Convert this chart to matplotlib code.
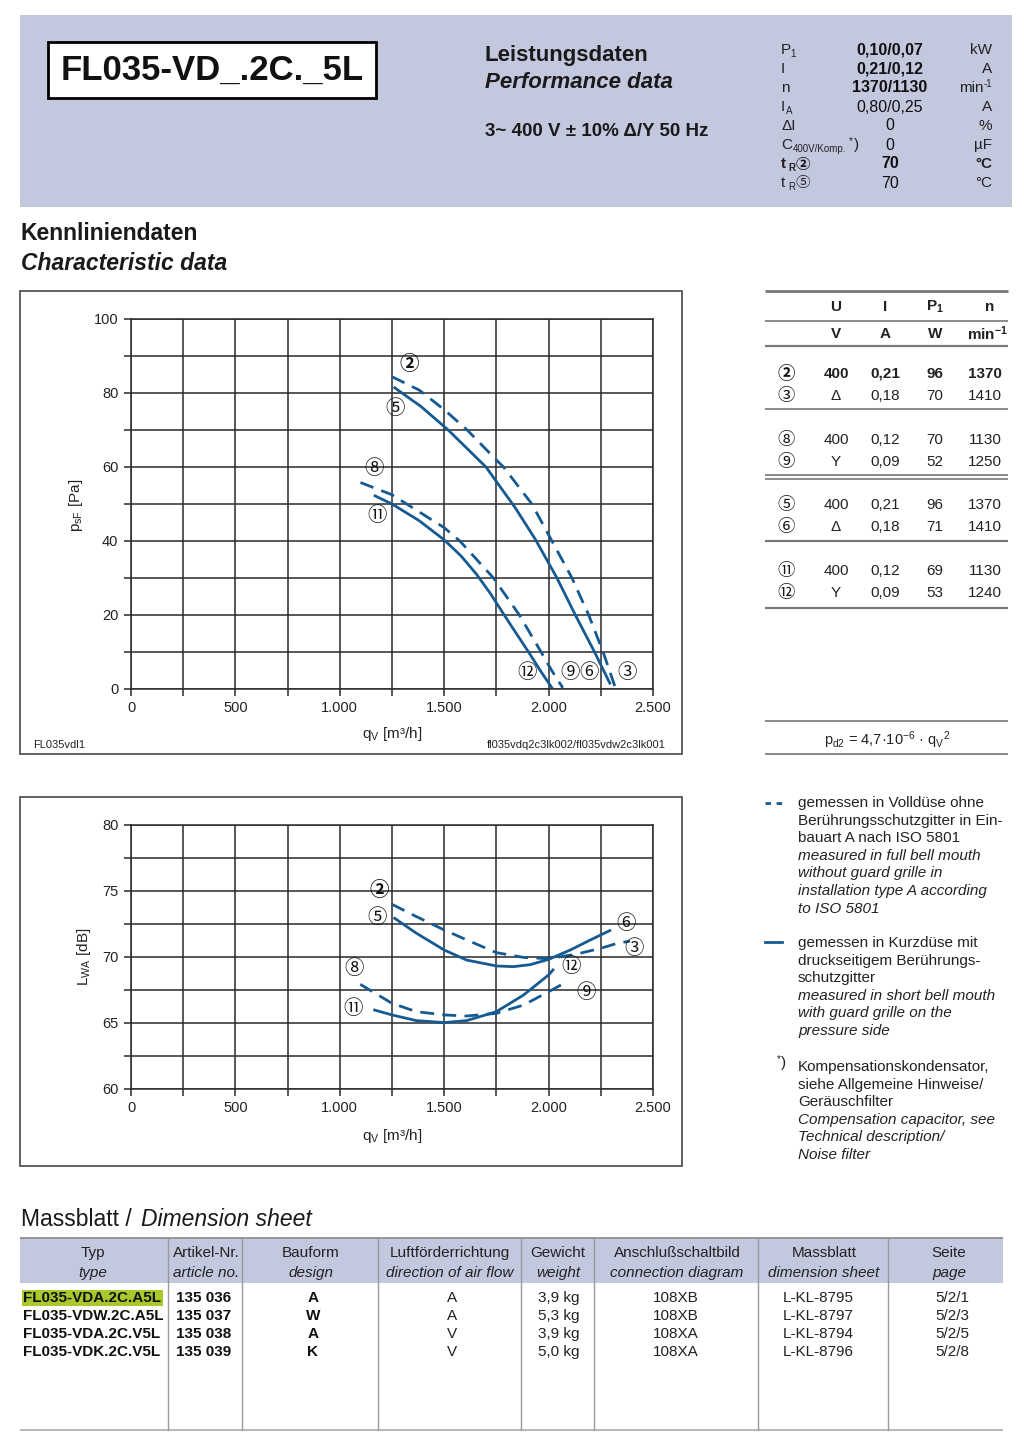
import numpy as np
import matplotlib
matplotlib.use('Agg')
import matplotlib.pyplot as plt
from matplotlib import font_manager
from matplotlib.patches import Rectangle

# --- data -----------------------------------------------------------------
# pressure curves  p_sF [Pa] over q_V [m3/h]
q_23 = [1250, 1380, 1500, 1610, 1750, 1784, 1920, 2016, 2112, 2192, 2261, 2320]
p_23 = [84.4, 80.8, 75.5, 70.0, 61.9, 60.0, 50.0, 40.0, 30.0, 20.0, 10.0, 0.3]
q_56 = [1263, 1390, 1519, 1700, 1840, 1936, 2040, 2128, 2220, 2293]
p_56 = [81.4, 76.3, 70.0, 60.0, 49.0, 40.5, 30.0, 20.0, 10.0, 1.6]
q_89 = [1099, 1250, 1500, 1575, 1736, 1860, 1964, 2015, 2068]
p_89 = [55.8, 52.5, 43.6, 40.0, 30.0, 20.0, 10.0, 5.0, 0.3]
q_1112 = [1169, 1250, 1380, 1500, 1580, 1655, 1720, 1784, 1850, 1904, 1960, 2016]
p_1112 = [52.2, 50.0, 45.5, 40.3, 36.0, 31.0, 25.9, 20.3, 14.6, 10.0, 5.0, 0.3]

# sound power curves  L_WA [dB] over q_V [m3/h]
qs_23 = [1250, 1367, 1500, 1607, 1750, 1880, 2000, 2136, 2250, 2329, 2390]
L_23 = [73.99, 73.06, 72.05, 71.3, 70.33, 69.97, 69.87, 70.23, 70.66, 71.04, 71.2]
qs_56 = [1263, 1367, 1500, 1607, 1750, 1832, 1912, 2000, 2104, 2200, 2293]
L_56 = [72.93, 71.8, 70.53, 69.77, 69.32, 69.27, 69.42, 69.82, 70.53, 71.29, 72.0]
qs_89 = [1098, 1250, 1367, 1500, 1607, 1750, 1880, 2000, 2080]
L_89 = [67.93, 66.49, 65.86, 65.61, 65.53, 65.73, 66.36, 67.37, 68.06]
qs_1112 = [1167, 1250, 1367, 1500, 1607, 1750, 1880, 2000, 2021]
L_1112 = [65.98, 65.61, 65.18, 65.03, 65.18, 65.86, 67.12, 68.64, 69.02]

# header performance data
perf_sym = ['P', 'I', 'n', 'I', 'ΔI', 'C', 't', 't']
perf_val = ['0,10/0,07', '0,21/0,12', '1370/1130', '0,80/0,25', '0', '0', '70', '70']
perf_unit = ['kW', 'A', 'min', 'A', '%', 'µF', '°C', '°C']
perf_bold = [True, True, True, False, False, False, True, False]

# operating points table
op_nums = ['②', '③', '⑧', '⑨', '⑤', '⑥', '⑪', '⑫']
op_U = ['400', 'Δ', '400', 'Y', '400', 'Δ', '400', 'Y']
op_I = ['0,21', '0,18', '0,12', '0,09', '0,21', '0,18', '0,12', '0,09']
op_P = ['96', '70', '70', '52', '96', '71', '69', '53']
op_n = ['1370', '1410', '1130', '1250', '1370', '1410', '1130', '1240']

# dimension sheet table
tb_type = ['FL035-VDA.2C.A5L', 'FL035-VDW.2C.A5L', 'FL035-VDA.2C.V5L', 'FL035-VDK.2C.V5L']
tb_art = ['135 036', '135 037', '135 038', '135 039']
tb_design = ['A', 'W', 'A', 'K']
tb_dir = ['A', 'A', 'V', 'V']
tb_weight = ['3,9 kg', '5,3 kg', '3,9 kg', '5,0 kg']
tb_conn = ['108XB', '108XB', '108XA', '108XA']
tb_sheet = ['L-KL-8795', 'L-KL-8797', 'L-KL-8794', 'L-KL-8796']
tb_page = ['5/2/1', '5/2/3', '5/2/5', '5/2/8']

# --- fonts ----------------------------------------------------------------
def have(name):
    try:
        font_manager.findfont(name, fallback_to_default=False)
        return True
    except Exception:
        return False

SANS = 'Liberation Sans'
NARROW = 'Liberation Sans Narrow' if have('Liberation Sans Narrow') else SANS
FAM = [SANS, 'DejaVu Sans']
NFAM = [NARROW, 'DejaVu Sans']
CFAM = ['Noto Sans CJK JP', 'DejaVu Sans']   # circled numbers
plt.rcParams['font.family'] = FAM
plt.rcParams['mathtext.fontset'] = 'custom'
plt.rcParams['mathtext.rm'] = SANS
plt.rcParams['mathtext.it'] = SANS + ':italic'
plt.rcParams['mathtext.bf'] = SANS + ':bold'

BLUE = '#165a92'
LAV = '#c3c8df'
GRID = '#2a2a2a'

fig = plt.figure(figsize=(10.24, 14.43), dpi=100)
ov = fig.add_axes([0, 0, 1, 1], zorder=0)
ov.set_xlim(0, 1024)
ov.set_ylim(1443, 0)
ov.axis('off')


def T(x, y, s, size=11, ha='left', va='center', fam=FAM, **kw):
    ov.text(x, y, s, fontsize=size, ha=ha, va=va, family=fam, **kw)


def hline(x0, x1, y, lw=1.2, color='#777777'):
    ov.plot([x0, x1], [y, y], color=color, lw=lw, solid_capstyle='butt')


# --- header ---------------------------------------------------------------
ov.add_patch(Rectangle((20, 15), 992, 192, color=LAV, lw=0))
ov.add_patch(Rectangle((48, 42), 328, 56, facecolor='white', edgecolor='black', lw=2))
T(212, 70, 'FL035-VD_.2C._5L', size=25, ha='center', fam=NFAM, weight='bold', color='#111111')
T(485, 55, 'Leistungsdaten', size=16, weight='bold', color='#1a1a1a')
T(485, 83, 'Performance data', size=16, style='italic', weight='bold', color='#1a1a1a')
T(485, 131, '3~ 400 V ± 10% Δ/Y 50 Hz', size=13.5, fam=NFAM, weight='bold', color='#1a1a1a')

subs = ['1', '', '', 'A', '', '400V/Komp.', 'R', 'R']
sub_x = [790, 0, 0, 786, 0, 793, 788, 788]
for i in range(len(perf_sym)):
    y = 50 + 19 * i
    w = 'bold' if perf_bold[i] else 'normal'
    ws = w if i >= 6 else 'normal'
    T(781, y, perf_sym[i], size=11, weight=ws, color='#222222')
    if subs[i]:
        T(sub_x[i], y + 4, subs[i], size=7, weight=ws, color='#222222')
    T(890, y, perf_val[i], size=11.5, ha='center', weight=w, color='#111111')
    if perf_unit[i] == 'min':
        T(984, y, 'min', size=11, ha='right', color='#222222')
        T(984, y - 4, '-1', size=7, ha='left', color='#222222')
    else:
        T(992, y, perf_unit[i], size=11, ha='right', weight=w if i == 6 else 'normal', color='#222222')
T(849, 141, '*', size=7, color='#222222')
T(854, 145, ')', size=11, color='#222222')
T(796, 164, '②', size=10.5, weight='bold', fam=CFAM, color='#111111')
T(796, 183, '⑤', size=10.5, fam=CFAM, color='#222222')

# --- section titles -------------------------------------------------------
T(21, 234, 'Kennliniendaten', size=16.5, weight='bold', color='#1a1a1a')
T(21, 263, 'Characteristic data', size=16.5, weight='bold', style='italic', color='#1a1a1a')
T(21, 1219, 'Massblatt /', size=16.5, color='#1a1a1a')
T(141, 1219, 'Dimension sheet', size=16.5, style='italic', color='#1a1a1a')

# chart frames
ov.add_patch(Rectangle((20, 291), 662, 463, fill=False, edgecolor='#555555', lw=1.3))
ov.add_patch(Rectangle((20, 797), 662, 369, fill=False, edgecolor='#555555', lw=1.3))


def setup(ax, ylo, yhi, ystep, ylab_step):
    ax.set_xlim(0, 2500)
    ax.set_ylim(ylo, yhi)
    xt = np.arange(0, 2501, 250)
    ax.set_xticks(xt)
    ax.set_xticklabels([f'{v:,}'.replace(',', '.') if v % 500 == 0 else '' for v in xt])
    yt = np.arange(ylo, yhi + 0.01, ystep)
    ax.set_yticks(yt)
    ax.set_yticklabels([f'{v:g}' if abs((v - ylo) % ylab_step) < 1e-6 else '' for v in yt])
    ax.grid(True, color=GRID, lw=1.1)
    ax.set_axisbelow(True)
    ax.tick_params(direction='out', length=5, width=1.1, color=GRID, labelsize=10.5,
                   labelcolor='#222222', pad=4)
    for lab in ax.get_xticklabels() + ax.get_yticklabels():
        lab.set_family(NFAM)
    for s in ax.spines.values():
        s.set_color(GRID)
        s.set_linewidth(1.1)


def circ(ax, x, y, s, bold=False):
    ax.text(x, y, s, fontsize=14, ha='center', va='center', family=CFAM,
            weight='bold' if bold else 'normal', color='#111111')


dash = dict(color=BLUE, lw=2, ls=(0, (5, 3)))
solid = dict(color=BLUE, lw=2)

# --- pressure chart -------------------------------------------------------
ax1 = fig.add_axes([131 / 1024, (1443 - 689) / 1443, 522 / 1024, 370 / 1443], zorder=1)
setup(ax1, 0, 100, 10, 20)
ax1.plot(q_23, p_23, **dash)
ax1.plot(q_56, p_56, **solid)
ax1.plot(q_89, p_89, **dash)
ax1.plot(q_1112, p_1112, **solid)
for s, x, y, b in [('②', 1332, 87.6, True), ('⑤', 1263, 75.9, False), ('⑧', 1164, 59.5, False),
                   ('⑪', 1178, 46.8, False), ('⑫', 1899, 4.4, False), ('⑨', 2104, 4.4, False),
                   ('⑥', 2195, 4.4, False), ('③', 2377, 4.4, False)]:
    circ(ax1, x, y, s, b)
T(76, 505, r'p$_\mathrm{sF}$ [Pa]', size=11, ha='center', rotation=90, color='#222222')
T(392, 734, r'q$_\mathrm{V}$ [m³/h]', size=11, ha='center', color='#222222')
T(33, 745, 'FL035vdl1', size=8, fam=NFAM, color='#222222')
T(666, 745, 'fl035vdq2c3lk002/fl035vdw2c3lk001', size=8, ha='right', fam=NFAM, color='#222222')

# --- sound chart ----------------------------------------------------------
ax2 = fig.add_axes([131 / 1024, (1443 - 1089) / 1443, 522 / 1024, 264 / 1443], zorder=1)
setup(ax2, 60, 80, 2.5, 5)
ax2.plot(qs_23, L_23, **dash)
ax2.plot(qs_56, L_56, **solid)
ax2.plot(qs_89, L_89, **dash)
ax2.plot(qs_1112, L_1112, **solid)
for s, x, y, b in [('②', 1187, 75.0, True), ('⑤', 1180, 72.98, False), ('⑥', 2369, 72.55, False),
                   ('③', 2409, 70.66, False), ('⑫', 2107, 69.27, False), ('⑨', 2181, 67.32, False),
                   ('⑧', 1070, 69.14, False), ('⑪', 1066, 66.11, False)]:
    circ(ax2, x, y, s, b)
T(84, 957, r'L$_\mathrm{WA}$ [dB]', size=11, ha='center', rotation=90, color='#222222')
T(392, 1136, r'q$_\mathrm{V}$ [m³/h]', size=11, ha='center', color='#222222')

# --- operating points table -----------------------------------------------
hline(765, 1008, 291, lw=2)
hline(765, 1008, 321)
hline(765, 1008, 346, lw=1.6)
hline(765, 1008, 409)
hline(765, 1008, 475)
hline(765, 1008, 479)
hline(765, 1008, 541, lw=1.6)
hline(765, 1008, 608, lw=1.6)
hline(765, 1008, 721)
hline(765, 1008, 754)
cols = [836, 885, 935, 985]
T(836, 307, 'U', size=11, ha='center', weight='bold', color='#222222')
T(885, 307, 'I', size=11, ha='center', weight='bold', color='#222222')
T(935, 307, r'$\mathbf{P_1}$', size=11, ha='center', color='#222222')
T(990, 307, 'n', size=11, ha='center', weight='bold', color='#222222')
T(836, 334, 'V', size=11, ha='center', weight='bold', color='#222222')
T(885, 334, 'A', size=11, ha='center', weight='bold', color='#222222')
T(935, 334, 'W', size=11, ha='center', weight='bold', color='#222222')
T(988, 334, r'$\mathbf{min^{-1}}$', size=11, ha='center', color='#222222')
row_y = [374, 396, 440, 462, 505, 527, 571, 593]
for i in range(len(op_nums)):
    y = row_y[i]
    w = 'bold' if i == 0 else 'normal'
    T(786, y, op_nums[i], size=12.5, ha='center', weight=w, fam=CFAM, color='#111111')
    T(cols[0], y, op_U[i], size=11, ha='center', weight=w, color='#222222')
    T(cols[1], y, op_I[i], size=11, ha='center', weight=w, color='#222222')
    T(cols[2], y, op_P[i], size=11, ha='center', weight=w, color='#222222')
    T(cols[3], y, op_n[i], size=11, ha='center', weight=w, color='#222222')
T(887, 740, r'p$_\mathrm{d2}$ = 4,7·10$^{-6}$ · q$_\mathrm{V}$$^2$', size=10.5, ha='center', color='#222222')

# --- legend text ----------------------------------------------------------
ov.plot([765, 783], [803, 803], color=BLUE, lw=2, ls=(0, (2, 2)))
ov.plot([765, 782], [942, 942], color=BLUE, lw=2)
leg1 = [('gemessen in Volldüse ohne', 'normal'), ('Berührungsschutzgitter in Ein-', 'normal'),
        ('bauart A nach ISO 5801', 'normal'), ('measured in full bell mouth', 'italic'),
        ('without guard grille in', 'italic'), ('installation type A according', 'italic'),
        ('to ISO 5801', 'italic')]
leg2 = [('gemessen in Kurzdüse mit', 'normal'), ('druckseitigem Berührungs-', 'normal'),
        ('schutzgitter', 'normal'), ('measured in short bell mouth', 'italic'),
        ('with guard grille on the', 'italic'), ('pressure side', 'italic')]
leg3 = [('Kompensationskondensator,', 'normal'), ('siehe Allgemeine Hinweise/', 'normal'),
        ('Geräuschfilter', 'normal'), ('Compensation capacitor, see', 'italic'),
        ('Technical description/', 'italic'), ('Noise filter', 'italic')]
for y0, lines in [(803, leg1), (943, leg2), (1067, leg3)]:
    for k, (s, st) in enumerate(lines):
        T(798, y0 + 17.6 * k, s, size=11, style=st, color='#222222')
T(777, 1059, '*', size=7, color='#222222')
T(781, 1063, ')', size=11, color='#222222')

# --- dimension sheet table ------------------------------------------------
ov.add_patch(Rectangle((20, 1238), 983, 45, color=LAV, lw=0))
hline(20, 1003, 1238, lw=1.2, color='#888888')
hline(20, 1003, 1430, lw=1.2, color='#aaaaaa')
for x in [168, 242, 378, 521, 594, 758, 888]:
    ov.plot([x, x], [1238, 1430], color='#999999', lw=1)
heads = [(93, 'Typ', 'type'), (206, 'Artikel-Nr.', 'article no.'), (311, 'Bauform', 'design'),
         (450, 'Luftförderrichtung', 'direction of air flow'), (558, 'Gewicht', 'weight'),
         (677, 'Anschlußschaltbild', 'connection diagram'), (824, 'Massblatt', 'dimension sheet'),
         (949, 'Seite', 'page')]
for x, de, en in heads:
    T(x, 1253, de, size=11, ha='center', fam=NFAM, color='#222222')
    T(x, 1273, en, size=11, ha='center', fam=NFAM, style='italic', color='#222222')
ov.add_patch(Rectangle((22, 1290), 141, 16, color='#a8c82c', lw=0))
for i in range(len(tb_type)):
    y = 1298 + 18 * i
    T(23, y, tb_type[i], size=11, fam=NFAM, weight='bold', color='#111111')
    T(176, y, tb_art[i], size=11, fam=NFAM, weight='bold', color='#111111')
    T(313, y, tb_design[i], size=11, ha='center', fam=NFAM, weight='bold', color='#111111')
    T(452, y, tb_dir[i], size=11, ha='center', fam=NFAM, color='#222222')
    T(559, y, tb_weight[i], size=11, ha='center', fam=NFAM, color='#222222')
    T(676, y, tb_conn[i], size=11, ha='center', fam=NFAM, color='#222222')
    T(818, y, tb_sheet[i], size=11, ha='center', fam=NFAM, color='#222222')
    T(952, y, tb_page[i], size=11, ha='center', fam=NFAM, color='#222222')

fig.savefig('out.png', dpi=100)
